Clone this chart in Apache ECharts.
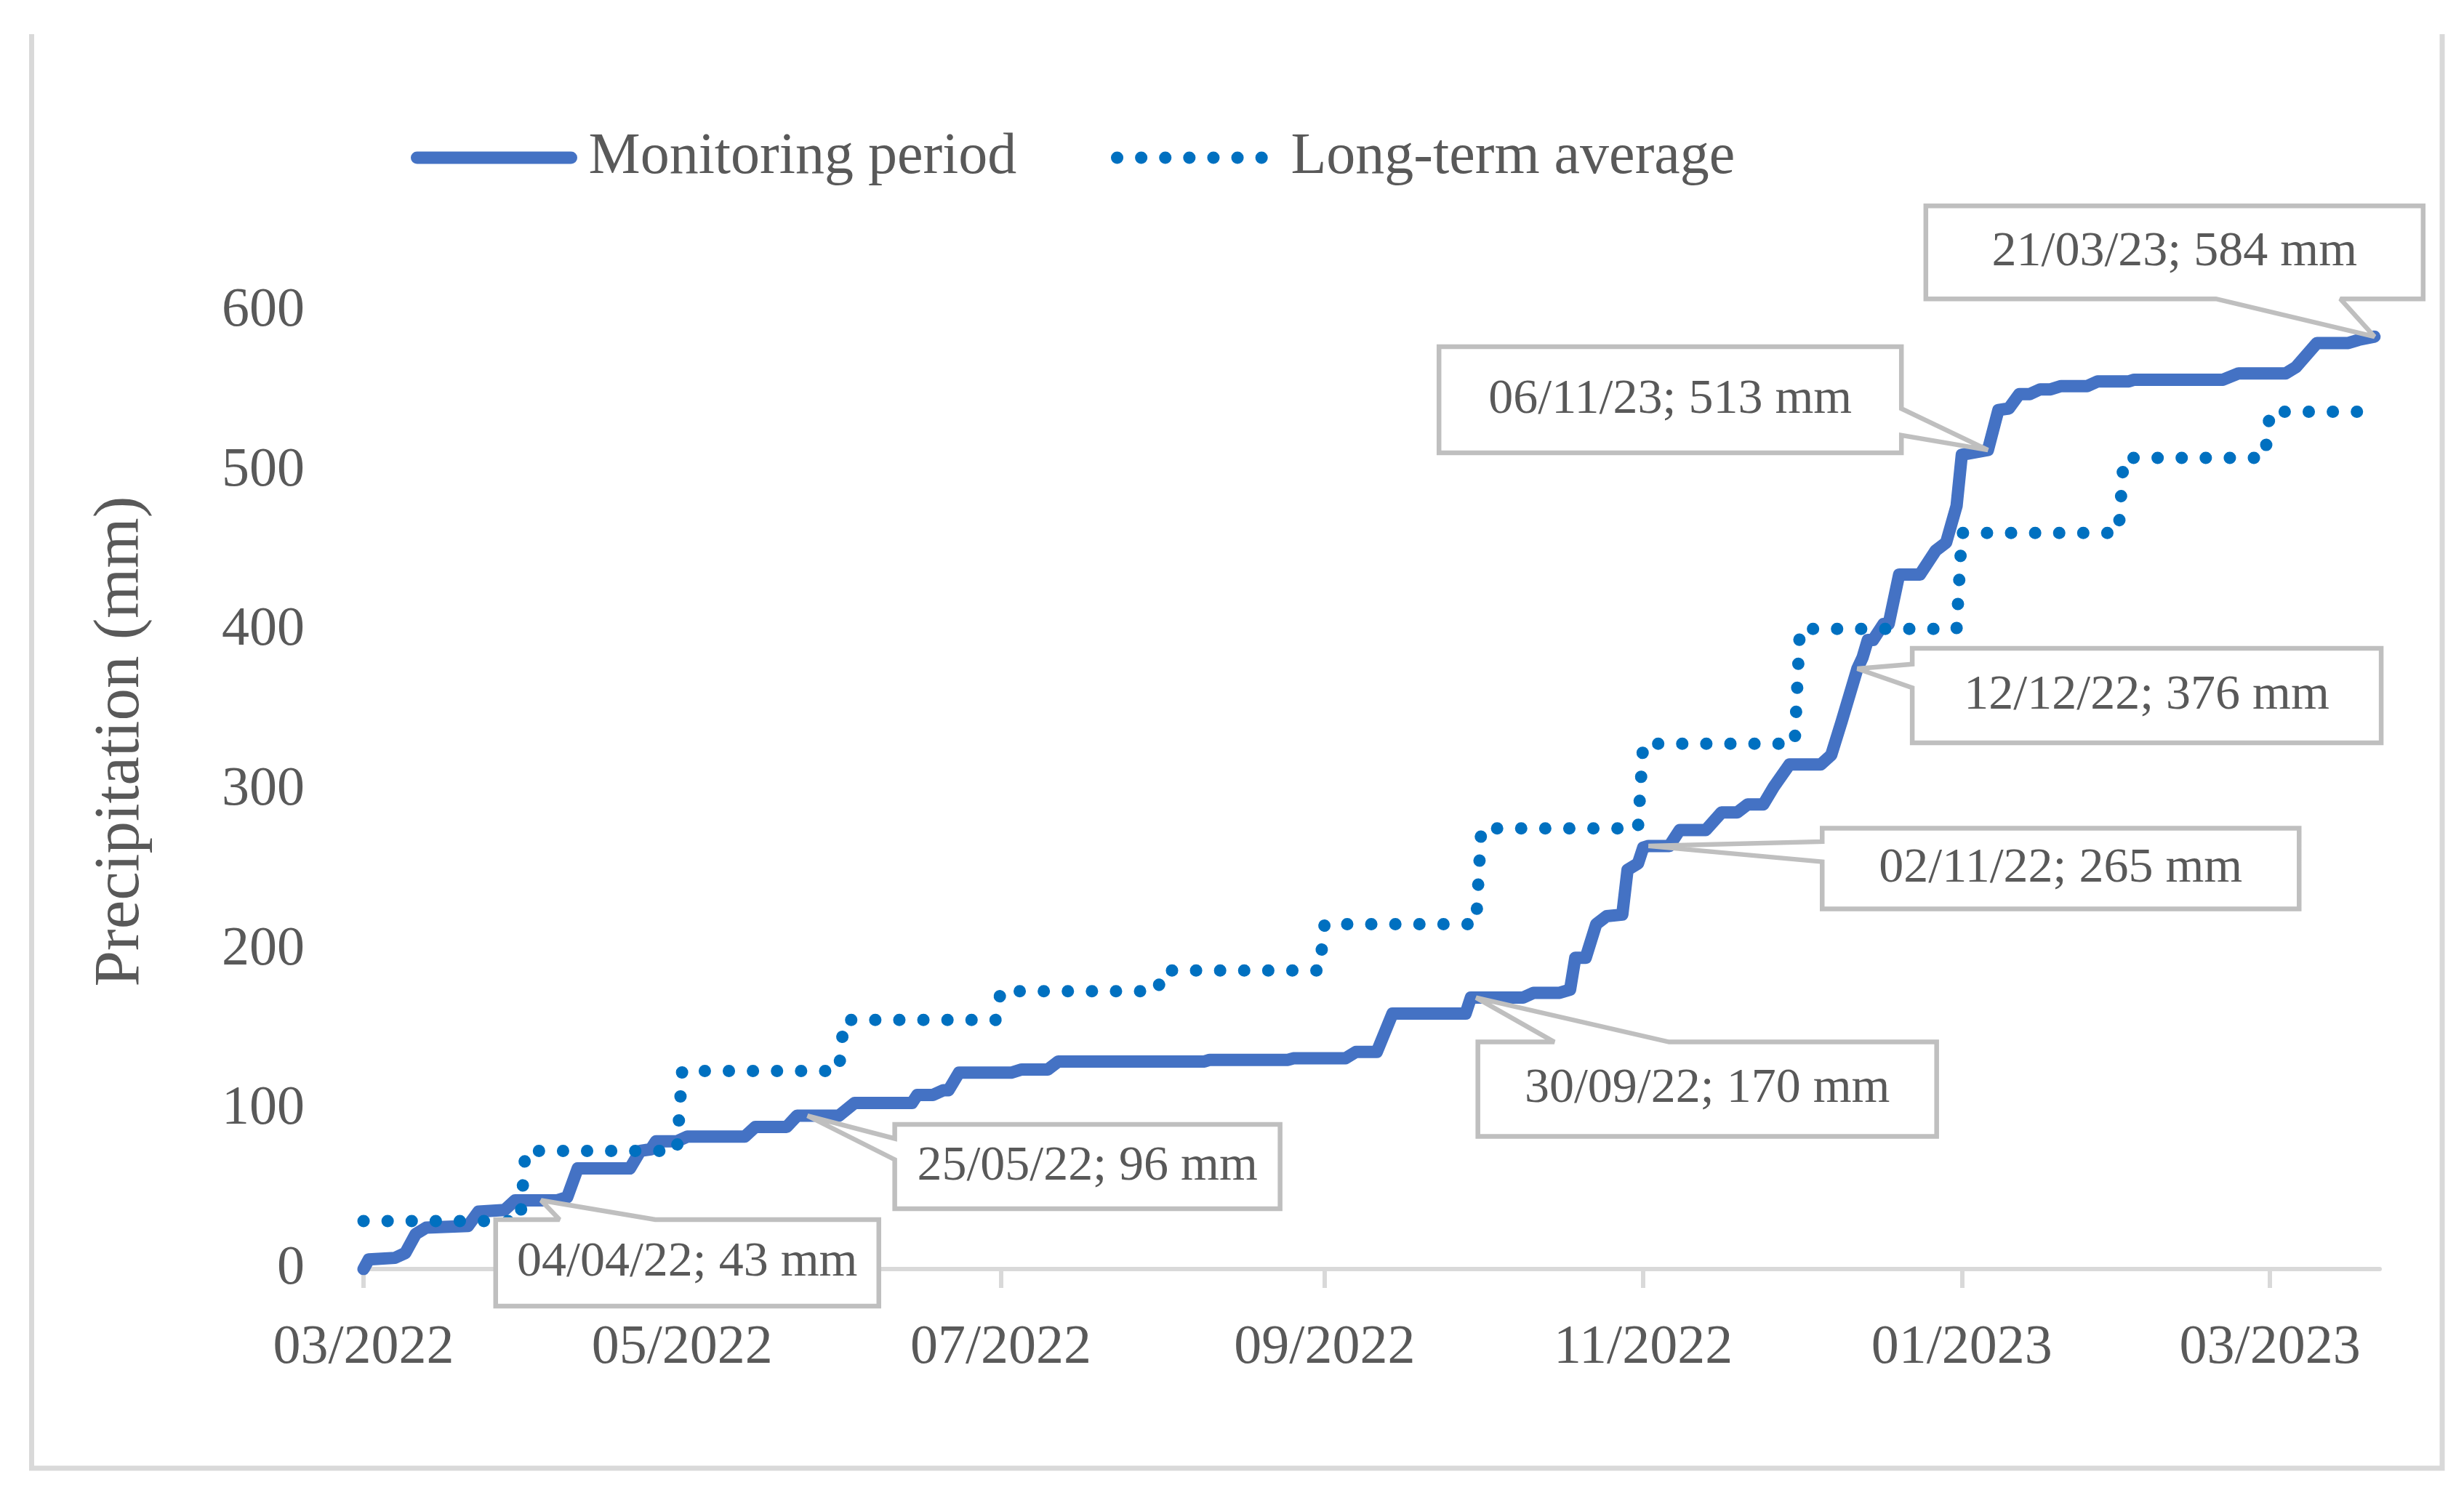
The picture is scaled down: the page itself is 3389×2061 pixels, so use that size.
<!DOCTYPE html>
<html><head><meta charset="utf-8">
<script src="https://cdn.jsdelivr.net/npm/echarts@6/dist/echarts.min.js"></script>
<style>html,body{margin:0;padding:0;background:#fff}#c{width:3389px;height:2061px}</style>
</head><body><div id="c"></div>
<script>
// ---- Data ----
const monitoringDates = [
 '2022-03-01','2022-03-02','2022-03-07','2022-03-09','2022-03-11','2022-03-13','2022-03-21','2022-03-23','2022-03-28','2022-03-30',
 '2022-04-04','2022-04-07','2022-04-09','2022-04-11','2022-04-21','2022-04-23','2022-04-25','2022-04-26','2022-04-30','2022-05-02',
 '2022-05-13','2022-05-15','2022-05-21','2022-05-23','2022-05-25','2022-05-31','2022-06-03','2022-06-14','2022-06-15','2022-06-18',
 '2022-06-20','2022-06-21','2022-06-23','2022-07-03','2022-07-05','2022-07-10','2022-07-12','2022-08-09','2022-08-10','2022-08-25',
 '2022-08-26','2022-09-05','2022-09-07','2022-09-11','2022-09-14','2022-09-28','2022-09-29','2022-09-30','2022-10-09','2022-10-11',
 '2022-10-16','2022-10-18','2022-10-19','2022-10-21','2022-10-23','2022-10-25','2022-10-28','2022-10-29','2022-10-31','2022-11-01',
 '2022-11-02','2022-11-06','2022-11-08','2022-11-13','2022-11-16','2022-11-19','2022-11-21','2022-11-24','2022-11-26','2022-11-29',
 '2022-12-05','2022-12-07','2022-12-09','2022-12-12','2022-12-13','2022-12-14','2022-12-15','2022-12-17','2022-12-18','2022-12-20',
 '2022-12-24','2022-12-27','2022-12-29','2022-12-31','2023-01-01','2023-01-06','2023-01-08','2023-01-10','2023-01-12','2023-01-14',
 '2023-01-16','2023-01-18','2023-01-20','2023-01-25','2023-01-27','2023-02-02','2023-02-03','2023-02-20','2023-02-23','2023-03-04',
 '2023-03-06','2023-03-10','2023-03-16','2023-03-18','2023-03-21'
];
const monitoringValues = [
 0, 6, 7, 10, 22, 26, 27, 36, 37, 43,
 43, 43, 45, 63, 63, 74, 75, 80, 80, 83,
 83, 89, 89, 96, 96, 96, 104, 104, 109, 109,
 112, 112, 123, 123, 125, 125, 130, 130, 131, 131,
 132, 132, 136, 136, 160, 160, 170, 170, 170, 173,
 173, 175, 195, 195, 216, 221, 222, 250, 254, 264,
 265, 265, 275, 275, 286, 286, 291, 291, 302, 316,
 316, 322, 343, 376, 383, 394, 394, 404, 404, 435,
 435, 450, 455, 478, 510, 513, 538, 539, 548, 548,
 551, 551, 553, 553, 556, 556, 557, 557, 561, 561,
 565, 580, 580, 582, 584
];
const longTermMonths = ['2022-03-01','2022-04-01','2022-05-01','2022-06-01','2022-07-01','2022-08-01','2022-09-01',
 '2022-10-01','2022-11-01','2022-12-01','2023-01-01','2023-02-01','2023-03-01'];
const longTermValues = [30, 74, 124, 156, 174, 187, 216, 276, 329, 401, 461, 508, 537];

const xTickDates = ['2022-03-01','2022-05-01','2022-07-01','2022-09-01','2022-11-01','2023-01-01','2023-03-01'];
const xTickLabels = ['03/2022','05/2022','07/2022','09/2022','11/2022','01/2023','03/2023'];
const xAxisRange = ['2022-03-01','2023-03-22'];
const yTicks = [0, 100, 200, 300, 400, 500, 600];

const calloutDates = ['2022-04-04','2022-05-25','2022-09-30','2022-11-02','2022-12-12','2023-01-06','2023-03-21'];
const calloutValues = [43, 96, 170, 265, 376, 513, 584];
const calloutTexts = ['04/04/22; 43 mm','25/05/22; 96 mm','30/09/22; 170 mm','02/11/22; 265 mm','12/12/22; 376 mm','06/11/23; 513 mm','21/03/23; 584 mm'];

// ---- Layout (annotation boxes: offset of box centre from point, and box size) ----
const calloutLayout = [
 {dx: 201, dy: 86, w: 527, h: 119},
 {dx: 385, dy: 70, w: 530, h: 116},
 {dx: 318, dy: 126, w: 631, h: 130},
 {dx: 567, dy: 31, w: 656, h: 111},
 {dx: 398, dy: 37, w: 645, h: 130},
 {dx: -437, dy: -69, w: 636, h: 146},
 {dx: -275, dy: -116, w: 684, h: 128}
];

const FONT = 'Liberation Serif';
const TXT = '#595959';
const BLUE = '#4472C4', DOTBLUE = '#0070C0';
const DOT_DASH = [0.1, 33];
// day index counted from the first date on the axis
const utc = s => { const p = s.split('-').map(Number); return Date.UTC(p[0], p[1] - 1, p[2]); };
const ORIGIN = utc(xAxisRange[0]);
const day = s => Math.round((utc(s) - ORIGIN) / 86400000);

const monitoringData = monitoringDates.map((d, i) => [day(d), monitoringValues[i]]);
const lastDay = day(monitoringDates[monitoringDates.length - 1]);
const longTermData = [];
longTermMonths.forEach((m, i) => {
  const start = day(m);
  const end = i < longTermMonths.length - 1 ? day(longTermMonths[i + 1]) - 1 : lastDay;
  longTermData.push([start, longTermValues[i]], [end, longTermValues[i]]);
});
const tickDays = xTickDates.map(day);

function renderCallout(params, api) {
  const i = params.dataIndex;
  const tip = api.coord([api.value(0), api.value(1)]);
  const L = calloutLayout[i];
  const cx = tip[0] + L.dx, cy = tip[1] + L.dy, w = L.w, h = L.h;
  const l = cx - w / 2, t = cy - h / 2, r = cx + w / 2, b = cy + h / 2;
  const dxPos = tip[0] - cx, dyPos = tip[1] - cy;
  const dq = dxPos * h / w;
  const vert = Math.abs(dyPos) > Math.abs(dq);
  const xa = l + w * (dxPos > 0 ? 7 : 2) / 12, xb = l + w * (dxPos > 0 ? 10 : 5) / 12;
  const ya = t + h * (dyPos > 0 ? 7 : 2) / 12, yb = t + h * (dyPos > 0 ? 10 : 5) / 12;
  const pts = [[l, t]];
  if (vert && dyPos < 0) pts.push([xa, t], tip, [xb, t]);
  pts.push([r, t]);
  if (!vert && dxPos > 0) pts.push([r, ya], tip, [r, yb]);
  pts.push([r, b]);
  if (vert && dyPos > 0) pts.push([xb, b], tip, [xa, b]);
  pts.push([l, b]);
  if (!vert && dxPos < 0) pts.push([l, yb], tip, [l, ya]);
  return {
    type: 'group',
    children: [
      {type: 'polygon', shape: {points: pts},
       style: {fill: '#ffffff', stroke: '#bfbfbf', lineWidth: 6.5, lineJoin: 'miter', miterLimit: 2}},
      {type: 'text', x: cx, y: cy,
       style: {text: calloutTexts[i], align: 'center', verticalAlign: 'middle',
               fontSize: 68, fontFamily: FONT, fill: TXT}}
    ]
  };
}

const chart = echarts.init(document.getElementById('c'), null, {renderer: 'canvas'});
const legendCommon = {
  top: 172, padding: 0, itemWidth: 212, itemHeight: 20, selectedMode: false,
  itemStyle: {opacity: 0, borderWidth: 0}
};
chart.setOption({
  animation: false,
  backgroundColor: '#ffffff',
  grid: {left: 500, right: 116, top: 428, bottom: 315, containLabel: false},
  legend: [
    Object.assign({}, legendCommon, {data: ['Monitoring period'], left: 565,
      lineStyle: {color: BLUE, width: 17, cap: 'round', type: 'solid'},
      textStyle: {fontFamily: FONT, fontSize: 80, color: TXT, lineHeight: 90, padding: [0, 0, 0, 19]}}),
    Object.assign({}, legendCommon, {data: ['Long-term average'], left: 1528,
      lineStyle: {color: DOTBLUE, width: 17, cap: 'round', type: DOT_DASH},
      textStyle: {fontFamily: FONT, fontSize: 80, color: TXT, lineHeight: 90, padding: [0, 0, 0, 22]}})
  ],
  xAxis: {
    type: 'value',
    min: day(xAxisRange[0]), max: day(xAxisRange[1]),
    axisLine: {show: true, onZero: false, lineStyle: {color: '#d9d9d9', width: 6}},
    axisTick: {show: true, customValues: tickDays, length: 26, inside: false, lineStyle: {color: '#d9d9d9', width: 6}},
    axisLabel: {customValues: tickDays, margin: 71, fontSize: 76, fontFamily: FONT, color: TXT,
      formatter: v => { const k = tickDays.indexOf(v); return k >= 0 ? xTickLabels[k] : ''; }},
    splitLine: {show: false}
  },
  yAxis: {
    type: 'value', min: yTicks[0], max: yTicks[yTicks.length - 1], interval: yTicks[1] - yTicks[0],
    axisLine: {show: false}, axisTick: {show: false}, splitLine: {show: false},
    axisLabel: {margin: 81, fontSize: 76, fontFamily: FONT, color: TXT}
  },
  series: [
    {name: 'Monitoring period', type: 'line', data: monitoringData, symbol: 'none', showSymbol: false,
     color: BLUE, lineStyle: {color: BLUE, width: 17, cap: 'round', join: 'round'}, z: 2},
    {name: 'Long-term average', type: 'line', data: longTermData, symbol: 'none', showSymbol: false,
     color: DOTBLUE, lineStyle: {color: DOTBLUE, width: 17, type: DOT_DASH, cap: 'round', join: 'round'}, z: 3},
    {name: 'callouts', type: 'custom', data: calloutDates.map((d, i) => [day(d), calloutValues[i]]),
     renderItem: renderCallout, clip: false, silent: true, z: 10}
  ],
  graphic: [
    {type: 'polyline', silent: true, shape: {points: [[43.5, 47], [43.5, 2020], [3359, 2020], [3359, 47]]},
     style: {stroke: '#d9d9d9', lineWidth: 7, fill: 'none'}},
    {type: 'text', x: 167, y: 1020, rotation: Math.PI / 2, silent: true,
     style: {text: 'Precipitation (mm)', fontSize: 89, fontFamily: FONT, fill: TXT, align: 'center', verticalAlign: 'middle'}}
  ]
});
</script></body></html>
